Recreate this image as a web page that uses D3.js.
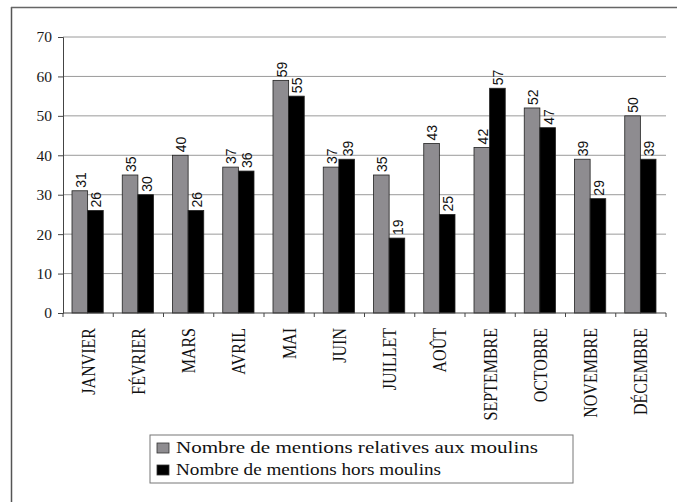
<!DOCTYPE html>
<html>
<head>
<meta charset="utf-8">
<script src="https://cdn.jsdelivr.net/npm/d3@7"></script>
<style>
  body { margin: 0; background: #fff; }
  svg { display: block; }
</style>
</head>
<body>
<div id="chart"></div>
<script>
const months = ['JANVIER', 'FÉVRIER', 'MARS', 'AVRIL', 'MAI', 'JUIN', 'JUILLET',
    'AOÛT', 'SEPTEMBRE', 'OCTOBRE', 'NOVEMBRE', 'DÉCEMBRE'];
const seriesNames = ['Nombre de mentions relatives aux moulins', 'Nombre de mentions hors moulins'];
const moulins = [31, 35, 40, 37, 59, 37, 35, 43, 42, 52, 39, 50];
const horsMoulins = [26, 30, 26, 36, 55, 39, 19, 25, 57, 47, 29, 39];
const yTicks = [0, 10, 20, 30, 40, 50, 60, 70];

let buildChart = function() {
    let W = 677, H = 502;
    let margin = { top: 37, left: 63, right: 11, bottom: 189 };
    let width = W - margin.left - margin.right;
    let height = H - margin.top - margin.bottom;
    let colors = ['#8e8c90', '#000'];
    let serif = '"Liberation Serif", "Times New Roman", serif';

    let svg = d3.select('#chart').append('svg')
        .attr('width', W)
        .attr('height', H);

    // scanned page frame
    svg.append('line').attr('x1', 11.5).attr('x2', 11.5).attr('y1', 7).attr('y2', H)
        .attr('stroke', '#555').attr('stroke-width', 1.5);
    svg.append('line').attr('x1', 11).attr('x2', W).attr('y1', 7.5).attr('y2', 7.5)
        .attr('stroke', '#666').attr('stroke-width', 1.5);

    let g = svg.append('g')
        .attr('transform', 'translate(' + margin.left + ',' + margin.top + ')');

    let x0 = d3.scaleBand().domain(months).range([0, width]).padding(0);
    let x1 = d3.scaleBand().domain([0, 1]).range([9, x0.bandwidth() - 10]).padding(0);
    let y = d3.scaleLinear().domain([0, 70]).range([height, 0]);

    // gridlines
    g.selectAll('line.grid').data(yTicks.slice(1)).enter().append('line')
        .attr('class', 'grid')
        .attr('x1', 0).attr('x2', width)
        .attr('y1', d => y(d)).attr('y2', d => y(d))
        .attr('stroke', '#9a9a9a').attr('stroke-width', 1);

    // y axis
    let yAxis = g.append('g').call(d3.axisLeft(y).tickValues(yTicks).tickSize(5).tickPadding(6));
    yAxis.select('.domain').attr('stroke', '#444');
    yAxis.selectAll('.tick line').attr('stroke', '#444');
    yAxis.selectAll('text')
        .style('font-family', serif)
        .style('font-size', '15.5px')
        .attr('fill', '#1a1a1a');

    // bars
    let data = months.map((m, i) => ({ month: m, values: [moulins[i], horsMoulins[i]] }));
    let groups = g.selectAll('g.month').data(data).enter().append('g')
        .attr('class', 'month')
        .attr('transform', d => 'translate(' + x0(d.month) + ',0)');

    groups.selectAll('rect').data(d => d.values.map((v, k) => ({ k: k, v: v }))).enter().append('rect')
        .attr('x', d => x1(d.k))
        .attr('width', x1.bandwidth())
        .attr('y', d => y(d.v))
        .attr('height', d => height - y(d.v))
        .attr('fill', d => colors[d.k])
        .attr('stroke', '#222')
        .attr('stroke-width', 0.8);

    groups.selectAll('text.val').data(d => d.values.map((v, k) => ({ k: k, v: v }))).enter().append('text')
        .attr('class', 'val')
        .attr('transform', d => 'translate(' + (x1(d.k) + x1.bandwidth() / 2 + 1) + ',' + (y(d.v) - 3) + ') rotate(-90)')
        .attr('dy', '0.35em')
        .style('font-family', '"Liberation Sans Narrow", "Arial Narrow", "Liberation Sans", sans-serif')
        .style('font-size', '14px')
        .attr('fill', '#111')
        .text(d => d.v);

    // x axis
    let xAxis = g.append('g').attr('transform', 'translate(0,' + height + ')');
    xAxis.append('line').attr('x1', 0).attr('x2', width).attr('y1', 0).attr('y2', 0)
        .attr('stroke', '#444');
    xAxis.selectAll('line.tick').data(months.concat(['end'])).enter().append('line')
        .attr('class', 'tick')
        .attr('x1', (d, i) => i < months.length ? x0(d) : width)
        .attr('x2', (d, i) => i < months.length ? x0(d) : width)
        .attr('y1', 0).attr('y2', 4)
        .attr('stroke', '#444');
    xAxis.selectAll('text').data(months).enter().append('text')
        .attr('transform', d => 'translate(' + (x0(d) + x0.bandwidth() / 2) + ',15) rotate(-90) scale(1,1.15)')
        .attr('text-anchor', 'end')
        .attr('dy', '0.35em')
        .style('font-family', serif)
        .style('font-size', '16px')
        .attr('fill', '#111')
        .text(d => d);

    // legend
    let legend = svg.append('g').attr('transform', 'translate(150,435)');
    legend.append('rect').attr('width', 423).attr('height', 48)
        .attr('fill', '#fff').attr('stroke', '#777').attr('stroke-width', 1);
    let legendWidths = [362, 265];
    seriesNames.forEach(function(name, i) {
        legend.append('rect')
            .attr('x', 7).attr('y', 8 + i * 22)
            .attr('width', 12).attr('height', 10)
            .attr('fill', colors[i]).attr('stroke', '#333').attr('stroke-width', 0.8);
        legend.append('text')
            .attr('x', 26).attr('y', 18 + i * 22)
            .attr('textLength', legendWidths[i])
            .attr('lengthAdjust', 'spacingAndGlyphs')
            .style('font-family', serif)
            .style('font-size', '16px')
            .attr('fill', '#111')
            .text(name);
    });
}

buildChart();
</script>
</body>
</html>
